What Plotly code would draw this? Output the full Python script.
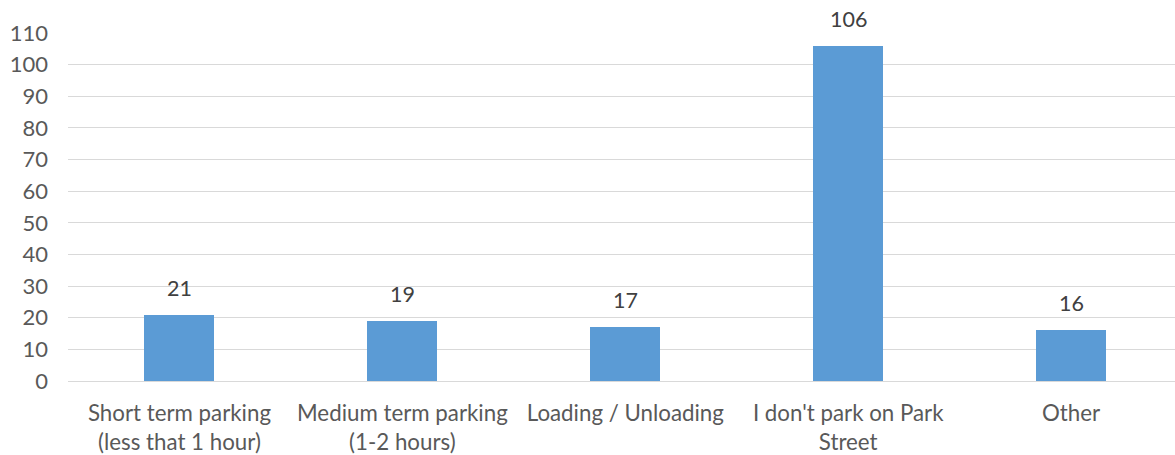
import plotly.graph_objects as go

# Survey responses: main reason for parking on Park Street
categories = [
    "Short term parking<br>(less that 1 hour)",
    "Medium term parking<br>(1-2 hours)",
    "Loading / Unloading",
    "I don't park on Park<br>Street",
    "Other",
]
counts = [21, 19, 17, 106, 16]
y_ticks = list(range(0, 111, 10))

BAR_COLOR = "#5B9BD5"
GRID_COLOR = "#D9D9D9"
FONT = "Lato, 'Open Sans', sans-serif"

fig = go.Figure(
    go.Bar(
        x=list(range(len(categories))),
        y=counts,
        marker=dict(color=BAR_COLOR, line=dict(width=0)),
        width=0.314,
        hoverinfo="skip",
    )
)

# value labels above each bar
for i, v in enumerate(counts):
    fig.add_annotation(
        x=i, y=v, text=str(v), showarrow=False,
        yanchor="bottom", yshift=12,
        font=dict(family=FONT, size=21.5, color="#404040"),
    )

fig.update_layout(
    width=1175,
    height=455,
    margin=dict(l=67.5, r=0, t=32.5, b=74),
    paper_bgcolor="white",
    plot_bgcolor="white",
    showlegend=False,
    font=dict(family=FONT, size=22, color="#595959"),
    bargap=0,
)

fig.update_xaxes(
    range=[-0.5, 4.466],
    tickmode="array",
    tickvals=list(range(len(categories))),
    ticktext=categories,
    showgrid=False,
    zeroline=False,
    showline=False,
    ticks="",
    ticklabelstandoff=17,
    tickfont=dict(family=FONT, size=22.3, color="#595959"),
    fixedrange=True,
)

fig.update_yaxes(
    range=[0, 110],
    tickmode="array",
    tickvals=y_ticks,
    showgrid=True,
    gridcolor=GRID_COLOR,
    gridwidth=1.3,
    zeroline=True,
    zerolinecolor=GRID_COLOR,
    zerolinewidth=1.3,
    showline=False,
    ticks="",
    ticklabelstandoff=19,
    tickfont=dict(family=FONT, size=22, color="#595959"),
    fixedrange=True,
)

fig.write_html("out.html", config={"displayModeBar": False})
